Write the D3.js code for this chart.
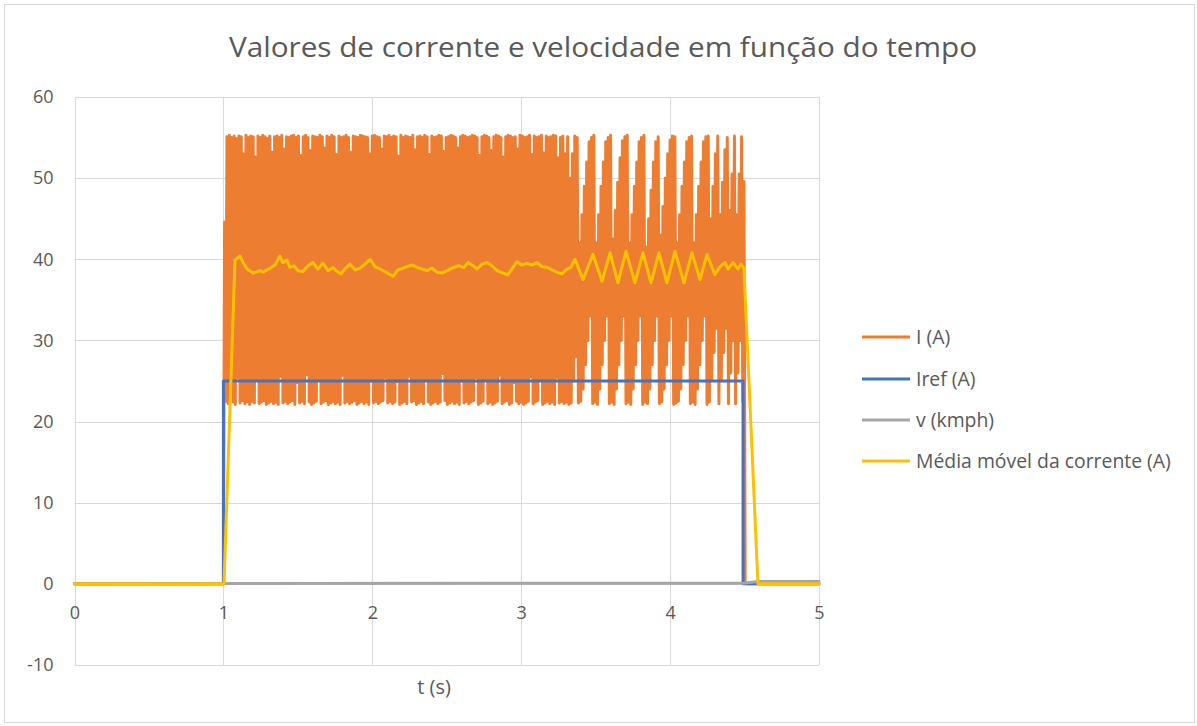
<!DOCTYPE html>
<html><head><meta charset="utf-8">
<script src="https://cdn.jsdelivr.net/npm/d3@7"></script>
<style>
html,body{margin:0;padding:0;background:#fff;}
svg{display:block;font-family:"Open Sans",sans-serif;}
</style></head><body>
<svg id="chart" width="1197" height="726"></svg>
<script>
const title = "Valores de corrente e velocidade em função do tempo";
const xTitle = "t (s)";
const xTicks = [0, 1, 2, 3, 4, 5];
const yTicks = [-10, 0, 10, 20, 30, 40, 50, 60];
const seriesNames = ["I (A)", "Iref (A)", "v (kmph)", "Média móvel da corrente (A)"];
const seriesColors = ["#ED7D31", "#4472C4", "#A5A5A5", "#FFC000"];

// I (A): one trough followed by one peak per switching sample
const iStart = 1.0, iPeriod = 0.016;
const iPeaks = [
  44.6, 55.1, 55.3, 55.0, 55.2, 54.9, 55.2, 55.1, 53.0, 55.3,
  55.0, 55.2, 55.1, 52.6, 55.2, 55.0, 55.3, 55.1, 54.9, 55.2,
  53.2, 55.1, 55.2, 55.0, 55.3, 53.6, 55.1, 55.0, 55.2, 55.3,
  55.0, 55.2, 52.8, 55.1, 55.3, 55.0, 53.4, 55.2, 55.1, 55.0,
  55.3, 55.1, 53.7, 55.2, 55.0, 55.3, 55.1, 52.9, 55.2, 55.0,
  55.1, 55.3, 55.0, 53.2, 55.2, 55.1, 55.0, 55.3, 55.2, 55.1,
  55.0, 53.0, 55.2, 55.3, 55.1, 55.0, 53.6, 55.2, 55.1, 55.3,
  55.0, 55.2, 55.1, 52.7, 55.3, 55.0, 55.2, 55.1, 55.0, 55.3,
  53.5, 55.1, 55.2, 55.0, 55.3, 55.1, 52.9, 55.2, 55.0, 55.1,
  55.3, 55.2, 53.3, 55.0, 55.1, 55.3, 55.2, 55.0, 53.7, 55.1,
  55.3, 55.2, 55.0, 55.1, 55.3, 55.2, 55.0, 52.8, 55.1, 55.3,
  55.2, 55.0, 53.4, 55.1, 55.3, 55.2, 55.0, 52.6, 55.1, 55.3,
  55.2, 55.0, 55.1, 53.6, 55.3, 55.2, 55.0, 55.1, 55.3, 52.9,
  55.2, 55.0, 55.1, 55.3, 53.1, 55.2, 55.0, 55.1, 55.3, 55.2,
  52.5, 55.0, 55.2, 53.0, 55.1, 50.0, 53.0, 55.2, 55.0, 42.0,
  45.5, 49.0, 52.0, 54.5, 55.0, 55.3, 42.0, 45.5, 49.0, 52.0,
  54.5, 55.0, 55.3, 42.5, 46.0, 49.5, 52.5, 54.6, 55.1, 55.3,
  42.0, 45.5, 49.0, 52.0, 54.5, 55.0, 55.3, 41.5, 45.0, 48.5,
  52.0, 54.5, 55.1, 43.0, 46.5, 50.0, 53.0, 54.7, 55.2, 55.1,
  42.0, 45.5, 49.0, 52.0, 54.5, 55.0, 55.2, 42.0, 45.5, 49.0,
  52.0, 54.5, 55.1, 55.2, 45.0, 49.0, 53.0, 55.2, 45.5, 49.5,
  53.5, 55.0, 46.0, 50.5, 55.2, 45.5, 50.5, 55.1, 49.6
];
const iTroughs = [
  0.0, 22.5, 22.2, 25.0, 22.4, 22.1, 25.4, 22.3, 22.6, 22.2,
  22.4, 22.1, 22.5, 22.3, 25.2, 22.2, 22.4, 22.6, 22.1, 22.3,
  22.5, 22.2, 22.4, 22.1, 25.6, 22.3, 22.5, 22.2, 22.4, 22.6,
  22.1, 24.8, 22.3, 22.5, 22.2, 25.8, 22.4, 22.1, 22.3, 22.5,
  25.3, 22.2, 22.4, 22.6, 22.1, 22.3, 22.5, 22.2, 22.4, 22.1,
  25.7, 22.3, 22.5, 22.2, 22.4, 22.6, 22.1, 22.3, 22.5, 22.2,
  22.4, 22.1, 25.0, 22.3, 22.5, 22.2, 22.4, 22.6, 25.4, 22.3,
  22.5, 22.2, 22.4, 24.9, 22.1, 22.3, 22.5, 22.2, 25.6, 22.4,
  22.6, 22.1, 22.3, 22.5, 22.2, 25.3, 22.4, 22.1, 22.3, 22.5,
  22.2, 22.4, 25.9, 22.6, 22.1, 22.3, 22.5, 22.2, 22.4, 22.1,
  25.0, 22.3, 22.5, 22.2, 22.4, 22.6, 25.4, 22.1, 22.3, 22.5,
  25.1, 22.2, 22.4, 22.1, 22.3, 22.5, 25.7, 22.2, 22.4, 22.6,
  22.1, 22.3, 24.8, 22.5, 22.2, 22.4, 22.1, 22.3, 22.5, 25.5,
  22.2, 22.4, 22.6, 25.2, 22.1, 22.3, 22.5, 22.2, 22.4, 22.1,
  25.4, 22.3, 22.5, 22.2, 22.4, 22.1, 22.3, 25.0, 28.0, 22.3,
  22.5, 24.0, 27.0, 30.0, 33.0, 22.2, 22.4, 22.1, 24.0, 27.0,
  30.0, 33.0, 22.2, 22.4, 22.1, 24.0, 27.0, 30.0, 33.0, 22.2,
  22.4, 22.1, 24.0, 27.0, 30.0, 33.0, 22.1, 22.4, 22.2, 24.0,
  27.0, 30.0, 33.0, 22.2, 22.4, 24.0, 27.0, 30.0, 33.0, 22.1,
  22.3, 22.5, 24.0, 27.0, 30.0, 33.0, 22.2, 22.4, 22.1, 24.0,
  27.0, 30.0, 33.0, 22.1, 22.4, 25.0, 28.5, 31.5, 22.2, 25.0,
  28.5, 31.5, 22.2, 26.0, 30.0, 22.2, 26.0, 30.0, 22.4, 0.0
];
const iEnd = 5.0;

// Iref (A): current reference step
const irefTime = [0, 1.0, 1.0, 4.49, 4.49, 5.0];
const irefValue = [0, 0, 25, 25, 0, 0];

// v (kmph)
const vTime = [0, 1.0, 4.49, 4.59, 5.0];
const vValue = [0, 0.05, 0.08, 0.3, 0.3];

// Moving average of the current
const mediaTime = [
  0, 1.004, 1.078, 1.112, 1.132, 1.159, 1.199, 1.246, 1.266, 1.313,
  1.347, 1.380, 1.400, 1.427, 1.447, 1.474, 1.501, 1.535, 1.568, 1.602,
  1.635, 1.669, 1.703, 1.736, 1.763, 1.790, 1.810, 1.850, 1.884, 1.917,
  1.951, 1.985, 2.018, 2.052, 2.092, 2.139, 2.173, 2.206, 2.233, 2.267,
  2.300, 2.334, 2.368, 2.401, 2.435, 2.469, 2.502, 2.536, 2.576, 2.616,
  2.643, 2.677, 2.703, 2.737, 2.770, 2.804, 2.838, 2.878, 2.911, 2.945,
  2.972, 3.005, 3.039, 3.073, 3.106, 3.140, 3.173, 3.207, 3.240, 3.274,
  3.308, 3.334, 3.361, 3.415, 3.482, 3.543, 3.597, 3.650, 3.704, 3.764,
  3.818, 3.872, 3.925, 3.979, 4.033, 4.093, 4.147, 4.201, 4.248, 4.301,
  4.335, 4.369, 4.389, 4.423, 4.456, 4.476, 4.496, 4.590, 5.0
];
const mediaValue = [
  0, 0, 39.9, 40.4, 39.6, 38.8, 38.3, 38.6, 38.4, 38.9,
  39.3, 40.4, 39.6, 39.9, 39.0, 39.2, 38.6, 38.5, 39.2, 39.6,
  38.8, 39.5, 38.6, 39.0, 38.5, 38.2, 38.7, 39.4, 38.7, 38.9,
  39.4, 40.0, 39.1, 38.8, 38.4, 37.9, 38.7, 38.9, 39.1, 39.3,
  39.0, 38.8, 38.6, 38.9, 38.4, 38.3, 38.6, 38.9, 39.2, 39.0,
  39.6, 39.2, 38.8, 39.4, 39.6, 39.2, 38.6, 38.3, 38.1, 39.0,
  39.7, 39.3, 39.5, 39.3, 39.6, 39.1, 39.0, 38.7, 38.4, 38.2,
  38.8, 39.0, 40.0, 37.5, 40.6, 37.3, 40.8, 37.1, 41.0, 37.1,
  40.8, 37.1, 40.8, 37.1, 41.0, 37.1, 40.8, 37.5, 40.6, 38.1,
  39.1, 39.6, 38.8, 39.6, 38.8, 39.4, 38.9, 0, 0
];

// Plot geometry
const plot = {left: 74.5, right: 819, top: 97, bottom: 665};
const x = d3.scaleLinear().domain([0, 5]).range([plot.left, plot.right]);
const y = d3.scaleLinear().domain([-10, 60]).range([plot.bottom, plot.top]);

const svg = d3.select("#chart");
const textColor = "#595959";
const gridColor = "#d9d9d9";

// chart frame
svg.append("rect").attr("x", 4.5).attr("y", 4.5).attr("width", 1190).attr("height", 718)
  .attr("fill", "#fff").attr("stroke", gridColor).attr("stroke-width", 1);

// title
const titleText = svg.append("text").attr("x", 603).attr("y", 57)
  .attr("text-anchor", "middle").attr("fill", textColor)
  .attr("font-size", 27).text(title);
const tw = titleText.node().getComputedTextLength();
if (Math.abs(tw - 748) > 4) titleText.attr("textLength", 748).attr("lengthAdjust", "spacingAndGlyphs");

// grid
const grid = svg.append("g");
grid.selectAll("line.h").data(yTicks).join("line")
  .attr("x1", plot.left).attr("x2", plot.right)
  .attr("y1", d => Math.round(y(d)) + 0.5).attr("y2", d => Math.round(y(d)) + 0.5)
  .attr("stroke", gridColor).attr("stroke-width", 1);
grid.selectAll("line.v").data(xTicks).join("line")
  .attr("y1", plot.top).attr("y2", plot.bottom)
  .attr("x1", d => Math.round(x(d)) + 0.5).attr("x2", d => Math.round(x(d)) + 0.5)
  .attr("stroke", gridColor).attr("stroke-width", 1);

// axes (labels only)
const plainNumber = d => String(d);
const yAxis = svg.append("g").attr("transform", `translate(${plot.left},0)`)
  .call(d3.axisLeft(y).tickValues(yTicks).tickSize(0).tickPadding(21).tickFormat(plainNumber));
const xAxis = svg.append("g").attr("transform", `translate(0,${y(0)})`)
  .call(d3.axisBottom(x).tickValues(xTicks).tickSize(0).tickPadding(22).tickFormat(plainNumber));
[yAxis, xAxis].forEach(a => {
  a.select(".domain").remove();
  a.selectAll("text").attr("fill", textColor).attr("font-size", 18)
    .attr("font-family", "\"Open Sans\",sans-serif");
});

// axis title
svg.append("text").attr("x", 434).attr("y", 694).attr("text-anchor", "middle")
  .attr("fill", textColor).attr("font-size", 20).text(xTitle);

// series
const line = d3.line().x(d => x(d[0])).y(d => y(d[1]));

const iPoints = [[0, 0]];
iTroughs.forEach((tv, k) => {
  const t0 = iStart + k * iPeriod;
  iPoints.push([t0, tv]);
  if (k < iPeaks.length) iPoints.push([t0 + iPeriod / 2, iPeaks[k]]);
});
iPoints.push([iEnd, 0]);

const series = [
  iPoints,
  irefTime.map((t, i) => [t, irefValue[i]]),
  vTime.map((t, i) => [t, vValue[i]]),
  mediaTime.map((t, i) => [t, mediaValue[i]])
];
const widths = [3, 3, 3, 3];

svg.append("g").selectAll("path").data(series).join("path")
  .attr("d", line)
  .attr("fill", "none")
  .attr("stroke", (d, i) => seriesColors[i])
  .attr("stroke-width", (d, i) => widths[i])
  .attr("stroke-linejoin", "round")
  .attr("stroke-linecap", "round");

// legend
const legendY = [337, 379, 420, 461];
const legend = svg.append("g").selectAll("g").data(seriesNames).join("g")
  .attr("transform", (d, i) => `translate(862,${legendY[i]})`);
legend.append("line").attr("x1", 0).attr("x2", 48).attr("y1", 0).attr("y2", 0)
  .attr("stroke", (d, i) => seriesColors[i]).attr("stroke-width", 3);
legend.append("text").attr("x", 54).attr("dy", "0.35em").attr("fill", textColor)
  .attr("font-size", 19.4).text(d => d);
</script>
</body></html>
